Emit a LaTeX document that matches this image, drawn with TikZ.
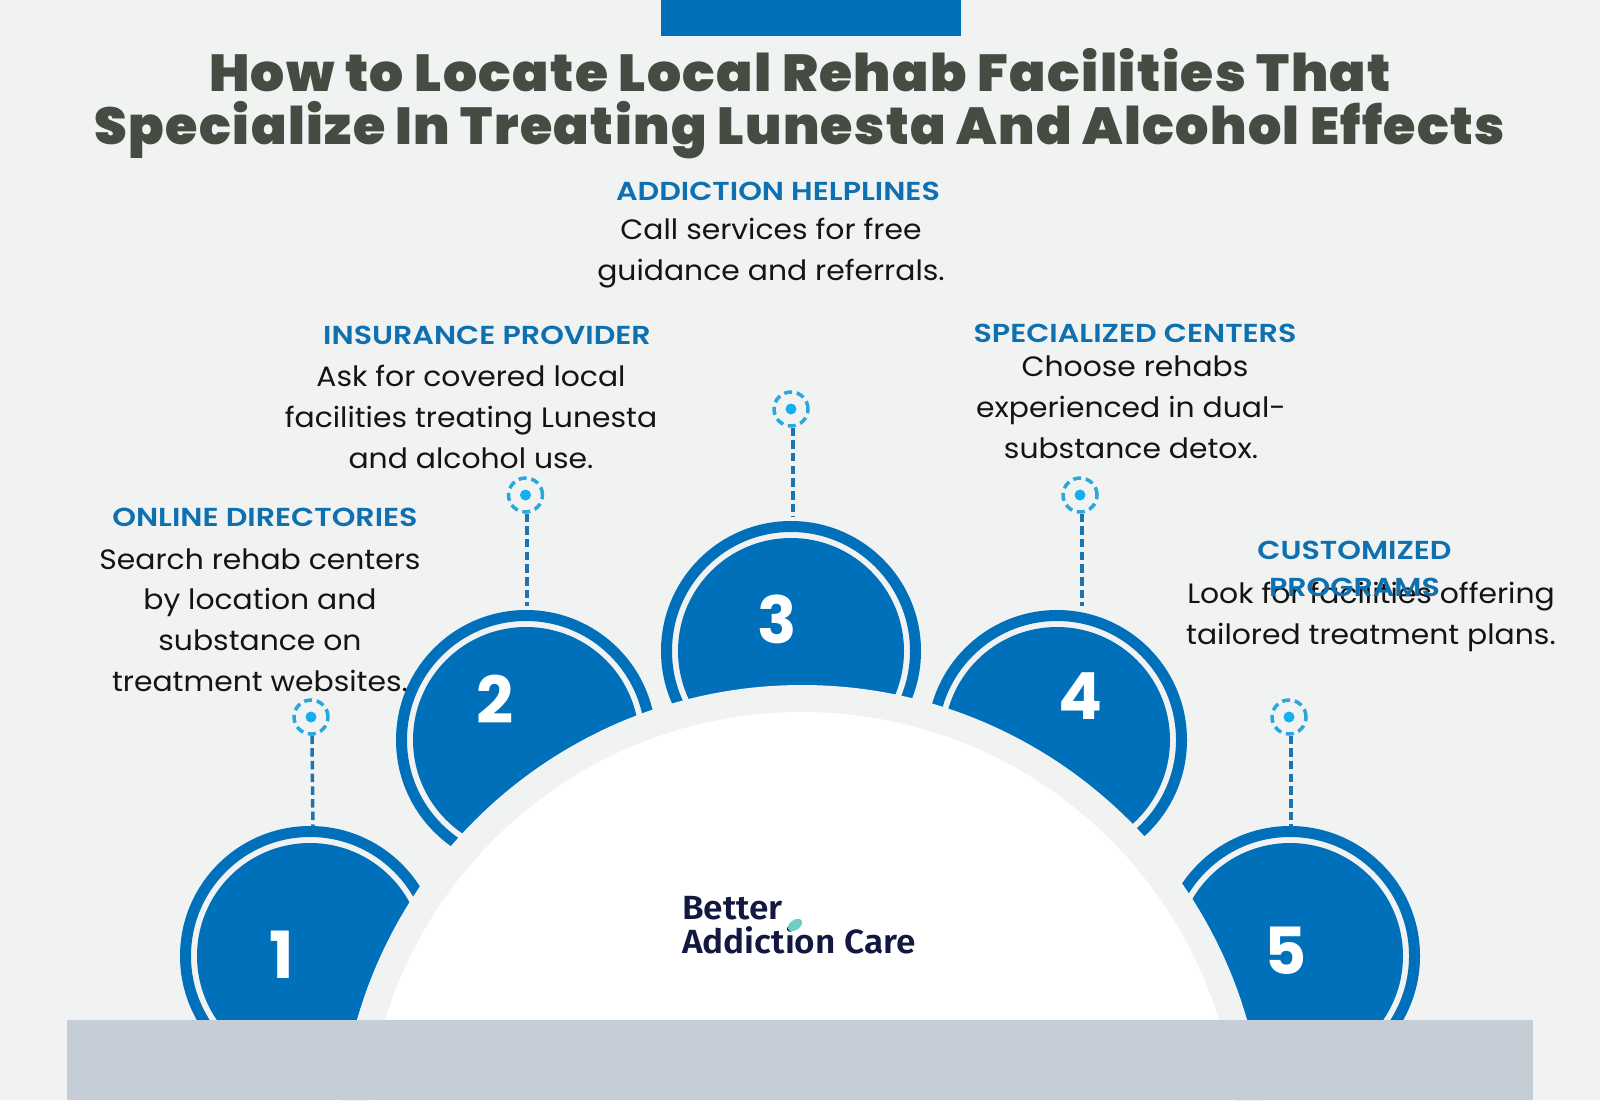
\documentclass[tikz,border=0pt]{standalone}
\usetikzlibrary{shapes.geometric}
\usepackage{fontspec}
\setmainfont{Poppins}
\newfontfamily\bodyfont[FakeStretch=1.065]{Poppins}
\newfontfamily\headfont[FakeStretch=1.16]{Poppins}[UprightFont=* SemiBold]
\newfontfamily\titlefonta[FakeStretch=1.03,LetterSpace=2.7]{Poppins}[UprightFont=* Black]
\newfontfamily\titlefontb[FakeStretch=1.007,LetterSpace=2.7]{Poppins}[UprightFont=* Black]
\newfontfamily\numfont{Poppins}[UprightFont=* Bold]
\newfontfamily\logofont[FakeStretch=1.05]{Fira Sans}[UprightFont=* SemiBold]
\definecolor{bgc}{HTML}{F1F3F3}
\definecolor{mainblue}{HTML}{0070BA}
\definecolor{barc}{HTML}{C5CDD7}
\definecolor{titlec}{HTML}{454C41}
\definecolor{headc}{HTML}{0F70B0}
\definecolor{ringc}{HTML}{2AA8DC}
\definecolor{dotc}{HTML}{12B0F0}
\definecolor{linkc}{HTML}{1C75AE}
\definecolor{logoc}{HTML}{12183F}
\definecolor{leafc}{HTML}{6CCFC4}
\tikzset{
  outerring/.style={circle,draw=mainblue,line width=11pt,fill=bgc,minimum size=249pt,inner sep=0pt,outer sep=0pt},
  innerdisc/.style={circle,fill=mainblue,minimum size=226pt,inner sep=0pt,outer sep=0pt},
  numlabel/.style={text=white,inner sep=0pt,font=\numfont\fontsize{65}{65}\selectfont},
  dashring/.style={circle,draw=ringc,line width=3.5pt,minimum size=34pt,inner sep=0pt,outer sep=1.5pt,dash pattern=on 8pt off 4.8pt},
  dotmark/.style={circle,fill=dotc,minimum size=11pt,inner sep=0pt},
  linkline/.style={draw=linkc,line width=3.5pt,dash pattern=on 8.5pt off 4.2pt,shorten >=5pt},
  linkshort/.style={linkline,shorten >=10pt},
  headlabel/.style={text=headc,align=center,inner sep=0pt,font=\headfont\fontsize{26}{37}\selectfont},
  bodylabel/.style={text=black!92,align=center,inner sep=0pt,font=\bodyfont\fontsize{28}{40.8}\selectfont},
  titlelabel/.style={text=titlec,align=center,inner sep=0pt,font=\titlefonta\fontsize{52}{53}\selectfont},
}
\begin{document}
\begin{tikzpicture}[x=1pt,y=-1pt]
\useasboundingbox (0,0) rectangle (1600,1100);
\fill[bgc] (0,0) rectangle (1600,1100);
\fill[mainblue] (661,0) rectangle (961,36);
\clip (0,0) rectangle (1600,1100);
% discs
\foreach \n/\x/\y in {1/310/956,2/526/740,3/791/651,4/1057/740,5/1290/956}{
  \node[outerring] (o\n) at (\x,\y) {};
  \node[innerdisc] (d\n) at (\x,\y) {};
}
% central semicircle
\node[circle,fill=bgc,minimum size=926pt,inner sep=0pt] (halo) at (802,1148) {};
\node[circle,fill=white,minimum size=872pt,inner sep=0pt] (dome) at (802,1148) {};
\fill[barc] (67,1020) rectangle (1533,1100);
% numbers
\node[numlabel] (n1) at (282,955) {1};
\node[numlabel] (n2) at (495,699) {2};
\node[numlabel] (n3) at (777.5,619.5) {3};
\node[numlabel] (n4) at (1080.6,696) {4};
\node[numlabel] (n5) at (1286,951) {5};
% markers and links
\foreach \n/\x/\y in {1/311/717,2/525.5/495,3/791/409,4/1080/495,5/1289/717}{
  \node[dashring] (r\n) at (\x,\y) {};
  \node[dotmark] (c\n) at (\x,\y) {};
}
\draw[linkline] ([xshift=1pt]r1.south) -- ([xshift=3pt]o1.north);
\draw[linkshort] ([xshift=1.5pt]r2.south) -- ([xshift=1pt]o2.north);
\draw[linkshort] ([xshift=2pt]r3.south) -- ([xshift=2pt]o3.north);
\draw[linkshort] ([xshift=2pt]r4.south) -- ([xshift=25pt]o4.north);
\draw[linkline] ([xshift=2pt]r5.south) -- ([xshift=1pt]o5.north);
% text
\node[titlelabel] (title) at (800,104) {How to Locate Local Rehab Facilities That\\{\titlefontb Specialize In Treating Lunesta And Alcohol Effects}};
\node[headlabel] (h3) at (778,191) {ADDICTION HELPLINES};
\node[bodylabel] (b3) at (771,253) {Call services for free\\guidance and referrals.};
\node[headlabel] (h2) at (487,335) {INSURANCE PROVIDER};
\node[bodylabel] (b2) at (471,417) {Ask for covered local\\facilities treating Lunesta\\and alcohol use.};
\node[headlabel] (h4) at (1135,333) {SPECIALIZED CENTERS};
\node[bodylabel] (b4) at (1131,407) {\hspace*{8pt}Choose rehabs\\experienced in dual-\\substance detox.};
\node[headlabel] (h1) at (265,517) {ONLINE DIRECTORIES};
\node[bodylabel] (b1) at (260,620) {Search rehab centers\\by location and\\substance on\\treatment websites.};
\node[bodylabel] (b5) at (1371,617) {Look for facilities offering\\tailored treatment plans.};
\node[headlabel] (h5) at (1354.5,568.5) {CUSTOMIZED\\PROGRAMS};
% logo
\node[text=logoc,inner sep=0pt,anchor=base west,font=\logofont\fontsize{33.5}{33}\selectfont] (lg1) at (682,919) {Better};
\node[text=logoc,inner sep=0pt,anchor=base west,font=\logofont\fontsize{33.5}{33}\selectfont] (lg2) at (682,953.5) {Addiction Care};
\node[ellipse,fill=leafc,rotate=35,minimum width=16pt,minimum height=10pt,inner sep=0pt] (leaf) at (795,925) {};
\end{tikzpicture}
\end{document}
